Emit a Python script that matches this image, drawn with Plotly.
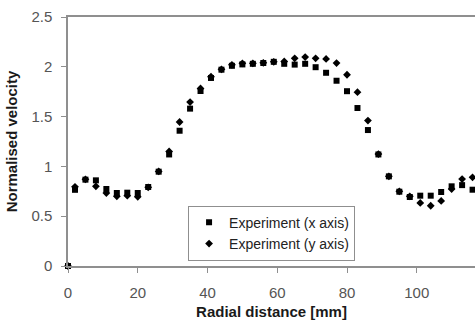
import plotly.graph_objects as go

radial_mm = [0, 2, 5, 8, 11, 14, 17, 20, 23, 26, 29, 32, 35, 38, 41, 44, 47, 50, 53, 56,
             59, 62, 65, 68, 71, 74, 77, 80, 83, 86, 89, 92, 95, 98, 101, 104, 107, 110, 113, 116]

vel_x_axis = [0, 0.765, 0.867, 0.86, 0.773, 0.733, 0.736, 0.733, 0.793, 0.947,
              1.12, 1.358, 1.58, 1.757, 1.888, 1.971, 2.01, 2.024, 2.03, 2.038,
              2.05, 2.03, 2.022, 2.03, 1.996, 1.94, 1.86, 1.755, 1.586, 1.365,
              1.12, 0.90, 0.746, 0.693, 0.706, 0.706, 0.743, 0.80, 0.812, 0.766]

vel_y_axis = [0, 0.795, 0.87, 0.80, 0.733, 0.70, 0.706, 0.695, 0.79, 0.95,
              1.15, 1.446, 1.646, 1.783, 1.90, 1.975, 2.02, 2.035, 2.035, 2.04,
              2.05, 2.054, 2.085, 2.098, 2.085, 2.079, 2.037, 1.92, 1.745, 1.46,
              1.124, 0.90, 0.75, 0.70, 0.633, 0.605, 0.653, 0.773, 0.873, 0.89]

x_ticks = [0, 20, 40, 60, 80, 100]
y_ticks = [0, 0.5, 1, 1.5, 2, 2.5]
y_tick_text = ["0", "0.5", "1", "1.5", "2", "2.5"]

FONT = "Liberation Sans, Arial, sans-serif"

fig = go.Figure()
fig.add_trace(go.Scatter(
    x=radial_mm, y=vel_y_axis, mode="markers", name="Experiment (y axis)",
    marker=dict(symbol="diamond", size=6, color="black", line=dict(width=0)),
    cliponaxis=False, showlegend=False))
fig.add_trace(go.Scatter(
    x=radial_mm, y=vel_x_axis, mode="markers", name="Experiment (x axis)",
    marker=dict(symbol="square", size=6, color="black", line=dict(width=0)),
    cliponaxis=False))
# legend entry for y-axis series (listed second in legend)
fig.add_trace(go.Scatter(
    x=[None], y=[None], mode="markers", name="Experiment (y axis)",
    marker=dict(symbol="diamond", size=6, color="black", line=dict(width=0))))

axis_line = "#8f8f8f"
fig.update_layout(
    width=475, height=320,
    margin=dict(l=68, r=0, t=17, b=54),
    paper_bgcolor="white", plot_bgcolor="white",
    font=dict(family=FONT, size=15, color="#555555"),
    showlegend=True,
    legend=dict(
        x=0.295, y=0.242, xanchor="left", yanchor="top",
        bgcolor="white", bordercolor="#8f8f8f", borderwidth=1,
        font=dict(family=FONT, size=14, color="#222222"),
        traceorder="normal",
    ),
    xaxis=dict(
        range=[0, 116.7], tickvals=x_ticks, showgrid=False, zeroline=False,
        showline=True, linecolor=axis_line, linewidth=1.5, mirror=True,
        ticks="outside", ticklen=5, tickcolor=axis_line, tickwidth=1,
        ticklabelstandoff=7,
        tickfont=dict(size=15, color="#555555"),
        title=dict(text="<b>Radial distance [mm]</b>", standoff=9,
                   font=dict(size=15, color="#1a1a1a")),
        automargin=False,
    ),
    yaxis=dict(
        range=[0, 2.5], tickvals=y_ticks, ticktext=y_tick_text, showgrid=False,
        zeroline=False, showline=True, linecolor=axis_line, linewidth=1.5,
        mirror=True, ticks="outside", ticklen=5, tickcolor=axis_line, tickwidth=1,
        ticklabelstandoff=6,
        tickfont=dict(size=15, color="#555555"),
        title=dict(text="<b>Normalised velocity</b>", standoff=10,
                   font=dict(size=15, color="#1a1a1a")),
        automargin=False,
    ),
)

fig.write_html("out.html")
